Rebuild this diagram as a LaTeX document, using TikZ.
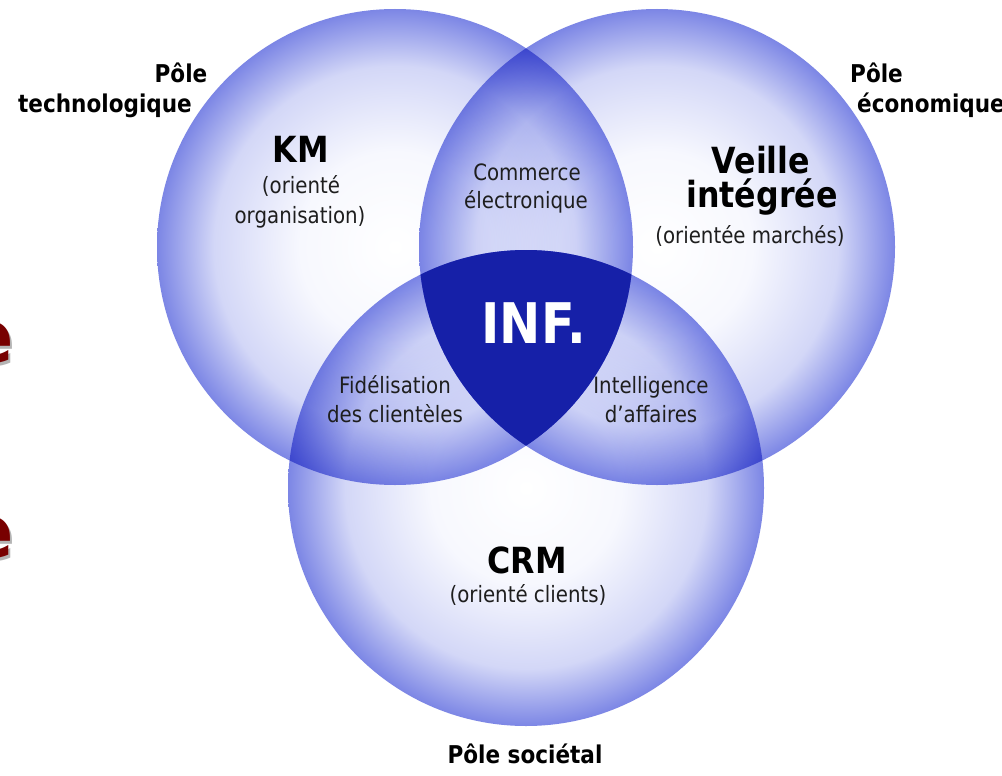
\documentclass[tikz,border=0pt]{standalone}
\usepackage{fontspec}
\setmainfont{DejaVu Sans}[FakeStretch=0.88]
\definecolor{edgeblue}{HTML}{7C86E5}
\definecolor{midblue}{HTML}{D3D7F7}
\definecolor{paleblue}{HTML}{F7F8FE}
\definecolor{infblue}{HTML}{1620A8}
\definecolor{darkred}{HTML}{780000}
\definecolor{shadowgray}{HTML}{B4B4B4}
\definecolor{txt}{HTML}{1E1E1E}
\pgfdeclareradialshading{venn}{\pgfpoint{0bp}{0bp}}{color(0bp)=(white); color(10bp)=(paleblue); color(19bp)=(midblue); color(25bp)=(edgeblue); color(50bp)=(edgeblue)}
\begin{document}
\begin{tikzpicture}[x=1pt,y=-1pt,
  lab/.style={anchor=base,inner sep=0pt,text=txt,font=\fontsize{22.5}{27}\selectfont},
  pole/.style={anchor=base,inner sep=0pt,text=black,font=\fontsize{24.5}{29}\selectfont\bfseries},
  big/.style={anchor=base,inner sep=0pt,text=black,font=\fontsize{36}{40}\selectfont\bfseries},
  rede/.style={anchor=base east,inner sep=0pt,font=\fontsize{72}{72}\selectfont\bfseries}]
\useasboundingbox (0,0) rectangle (1002,776);
\clip (0,0) rectangle (1002,776);
\fill[white] (0,0) rectangle (1002,776);
\coordinate (cL) at (395,247);
\coordinate (cR) at (657,247);
\coordinate (cB) at (526,488);
% circles
\begin{scope}[blend group=multiply]
  \shade[shading=venn] (cL) circle (238pt);
  \shade[shading=venn] (cR) circle (238pt);
  \shade[shading=venn] (cB) circle (238pt);
\end{scope}
% central region
\begin{scope}
  \clip (cL) circle (238pt);
  \clip (cR) circle (238pt);
  \fill[infblue] (cB) circle (238pt);
\end{scope}
% clipped red letters at the left edge (with their shadow)
\node[rede] (e1) at (14,362) {\makebox[0pt][l]{\hspace{2pt}\raisebox{-3pt}{\textcolor{shadowgray}{e}}}\textcolor{darkred}{e}};
\node[rede] (e2) at (14,557) {\makebox[0pt][l]{\hspace{2pt}\raisebox{-3pt}{\textcolor{shadowgray}{e}}}\textcolor{darkred}{e}};
% pole labels
\node[pole] (p1a) at (181,82) {Pôle};
\node[pole] (p1b) at (105,113) {technologique};
\node[pole,anchor=base west] (p2a) at (850,82) {Pôle};
\node[pole,anchor=base west] (p2b) at (857,113) {économique};
\node[pole] (p3) at (525,763) {Pôle sociétal};
% KM
\node[big] (km) at (301,162) {KM};
\node[lab] (km1) at (301,193) {(orienté};
\node[lab] (km2) at (300,223) {organisation)};
% Veille
\node[big] (v1) at (761,173) {Veille};
\node[big] (v2) at (762,207) {intégrée};
\node[lab] (v3) at (750,243) {(orientée marchés)};
% Commerce
\node[lab] (c1) at (527,180) {Commerce};
\node[lab] (c2) at (526,208) {électronique};
% INF
\node[anchor=base,inner sep=0pt,text=white,font=\fontsize{56}{60}\selectfont\bfseries] (inf) at (534,343) {INF.};
% lenses
\node[lab] (f1) at (395,393) {Fidélisation};
\node[lab] (f2) at (395,422) {des clientèles};
\node[lab] (i1) at (651,393) {Intelligence};
\node[lab] (i2) at (651,422) {d'affaires};
% CRM
\node[big] (crm) at (527,573) {CRM};
\node[lab] (crm1) at (528,602) {(orienté clients)};
\end{tikzpicture}
\end{document}
